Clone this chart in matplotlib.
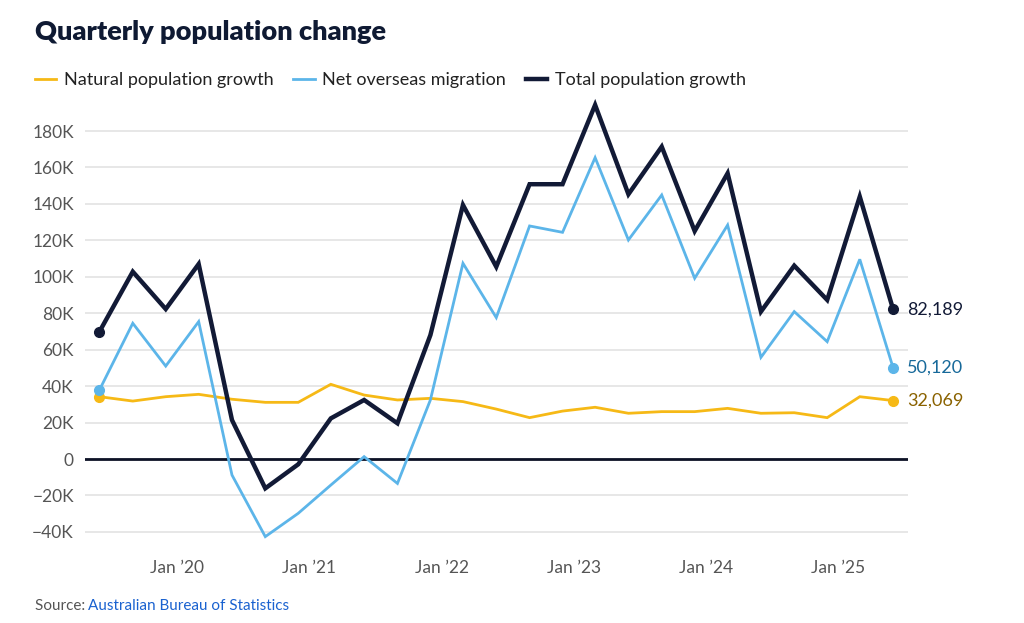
import matplotlib
matplotlib.use('Agg')
import matplotlib.pyplot as plt
from matplotlib.ticker import FuncFormatter, FixedLocator
import pandas as pd
import datetime as dt

plt.rcParams['font.family'] = ['Lato', 'DejaVu Sans']

# quarterly data, Jun 2019 - Jun 2025
dates = pd.date_range('2019-06-01', '2025-06-01', freq='3MS')
natural = [34200, 31800, 34200, 35500, 32800, 31100, 31100, 41000, 35100,
           32400, 33300, 31500, 27400, 22700, 26300, 28400, 25100, 26000,
           26000, 27800, 25100, 25400, 22700, 34200, 32069]
overseas = [37900, 74500, 51000, 75400, -8800, -42600, -29800, -14300, 1300,
            -13400, 32400, 107400, 77600, 127900, 124400, 165400, 120200, 144900,
            99200, 128400, 55800, 80900, 64400, 109600, 50120]
total = [69900, 102800, 82300, 107000, 21400, -16100, -2900, 22300, 32400,
         19600, 68000, 139400, 105500, 150800, 150800, 194300, 145300, 171400,
         125100, 156800, 80900, 106100, 87300, 144000, 82189]

series_names = ['Natural population growth', 'Net overseas migration', 'Total population growth']
colors = ['#f6b916', '#5cb5e9', '#121a36']
label_colors = ['#8a6200', '#17699a', '#121a36']
widths = [2.0, 2.0, 3.2]
yticks = [-40000, -20000, 0, 20000, 40000, 60000, 80000, 100000, 120000, 140000, 160000, 180000]
xtick_years = [2020, 2021, 2022, 2023, 2024, 2025]

fig = plt.figure(figsize=(10.24, 6.23), dpi=100)
ax = fig.add_axes([0.083, 0.1316, 0.804, 0.7166])

for vals, c, lw, name, lc in zip([natural, overseas, total], colors, widths, series_names, label_colors):
    ax.plot(dates, vals, color=c, lw=lw, label=name, solid_joinstyle='miter', zorder=3)
    ax.plot([dates[0], dates[-1]], [vals[0], vals[-1]], 'o', color=c, ms=7, zorder=4)
    ax.annotate(f'{vals[-1]:,}', (dates[-1], vals[-1]), xytext=(10, 0),
                textcoords='offset points', va='center', ha='left',
                fontsize=13, color=lc, annotation_clip=False)

ax.set_ylim(-45000, 200000)
ax.set_xlim(dt.date(2019, 4, 22), dt.date(2025, 7, 13))
ax.yaxis.set_major_locator(FixedLocator(yticks))
ax.yaxis.set_major_formatter(FuncFormatter(
    lambda v, p: '0' if v == 0 else f'{v/1000:.0f}K'.replace('-', '\u2212')))
ax.set_xticks([dt.date(y, 1, 1) for y in xtick_years])
ax.set_xticklabels([f'Jan \u2019{y % 100:02d}' for y in xtick_years])
ax.grid(axis='y', color='#e3e3e3', lw=1.2, zorder=0)
ax.axhline(0, color='#0d1226', lw=2, zorder=2)
for s in ax.spines.values():
    s.set_visible(False)
ax.tick_params(length=0, labelsize=12.5, labelcolor='#555555')
ax.tick_params(axis='y', pad=8)
ax.tick_params(axis='x', pad=14)

fig.text(0.034, 0.948, 'Quarterly population change', fontsize=19.5, fontweight='heavy',
         color='#0f1a33', va='center')
leg = fig.legend(loc='center left', bbox_to_anchor=(0.034, 0.871), ncol=3, frameon=False,
                 borderpad=0, borderaxespad=0, handlelength=1.2, handletextpad=0.4,
                 columnspacing=1.1, fontsize=13)
for t in leg.get_texts():
    t.set_color('#222222')

fig.text(0.034, 0.028, 'Source: ', fontsize=11, color='#555555', va='center')
fig.text(0.086, 0.028, 'Australian Bureau of Statistics', fontsize=11, color='#1a62d0', va='center')

fig.savefig('out.png', dpi=100)
